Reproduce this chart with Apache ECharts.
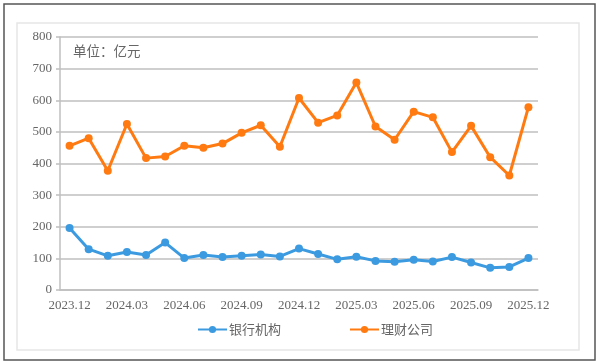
<!DOCTYPE html>
<html><head><meta charset="utf-8">
<script src="https://cdn.jsdelivr.net/npm/echarts@6/dist/echarts.min.js"></script>
<style>html,body{margin:0;padding:0;background:#fff;}#c{width:600px;height:364px;}</style>
</head><body><div id="c"></div>
<script>
const months = ['2023.12','2024.01','2024.02','2024.03','2024.04','2024.05','2024.06','2024.07','2024.08','2024.09','2024.10','2024.11','2024.12','2025.01','2025.02','2025.03','2025.04','2025.05','2025.06','2025.07','2025.08','2025.09','2025.10','2025.11','2025.12'];
const bankValues = [196,129,108,120,111,150,101,111,104,108,112,106,131,114,97,105,92,89,96,90,104,87,70,73,101];
const wmcValues = [456,480,377,525,417,422,456,450,463,497,521,453,607,529,552,656,517,475,564,546,436,519,420,362,578];
const yTicks = [0,100,200,300,400,500,600,700,800];
const unitText = '单位：亿元';
const seriesNames = ['银行机构','理财公司'];

const chart = echarts.init(document.getElementById('c'));
const serif = '"Liberation Serif", "DejaVu Serif", serif';
const cjk = '"Noto Sans CJK SC", sans-serif';
chart.setOption({
  animation: false,
  backgroundColor: '#fff',
  grid: {left: 60, right: 62, top: 37, bottom: 74, containLabel: false},
  xAxis: {
    type: 'category', data: months, boundaryGap: true,
    axisLine: {show: true, lineStyle: {color: '#bfbfbf', width: 1.5}},
    axisTick: {show: false},
    axisLabel: {interval: 2, color: '#666', fontFamily: serif, fontSize: 13, margin: 9}
  },
  yAxis: {
    type: 'value', min: yTicks[0], max: yTicks[yTicks.length-1], interval: 100,
    axisLine: {show: true, lineStyle: {color: '#bfbfbf', width: 1.5}},
    axisTick: {show: true, length: 4, lineStyle: {color: '#bfbfbf', width: 1.5}},
    splitLine: {lineStyle: {color: '#bfbfbf', width: 1.5}},
    axisLabel: {color: '#666', fontFamily: serif, fontSize: 13, margin: 8}
  },
  legend: {
    left: 192, top: 318, itemWidth: 29, itemHeight: 9, itemGap: 68,
    textStyle: {color: '#666', fontFamily: cjk, fontSize: 13, padding: [0,0,0,-3]},
    data: seriesNames
  },
  series: [
    {name: seriesNames[0], type: 'line', data: bankValues, color: '#3c9be0',
     symbol: 'circle', symbolSize: 8, lineStyle: {width: 3}},
    {name: seriesNames[1], type: 'line', data: wmcValues, color: '#ff7a10',
     symbol: 'circle', symbolSize: 8, lineStyle: {width: 3}}
  ],
  graphic: [
    {type: 'rect', shape: {x: 4, y: 4, width: 591, height: 356}, style: {fill: 'none', stroke: '#555', lineWidth: 1.5}, silent: true},
    {type: 'rect', shape: {x: 17, y: 23, width: 562, height: 327}, style: {fill: 'none', stroke: '#e6e6e6', lineWidth: 1.5}, silent: true},
    {type: 'text', left: 73, top: 44, style: {text: unitText, fill: '#666', font: '13.5px "Noto Sans CJK SC", sans-serif'}}
  ]
});
</script></body></html>
